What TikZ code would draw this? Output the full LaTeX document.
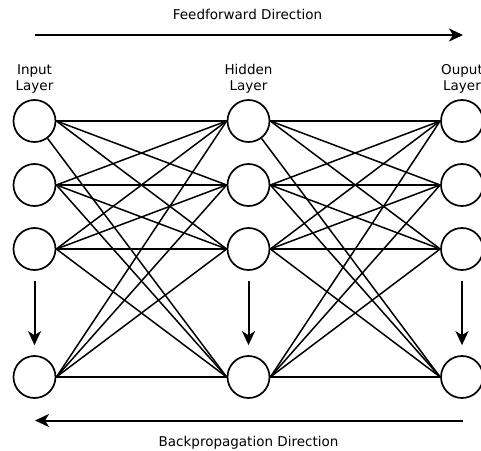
\documentclass[tikz,border=0pt]{standalone}
\usepackage{fontspec}
\setmainfont{DejaVu Sans}
\usetikzlibrary{arrows.meta}
\tikzset{
  neuron/.style={circle, draw, line width=1.7bp, minimum size=42bp, inner sep=0pt},
  link/.style={line width=1.5bp},
  flow/.style={line width=2bp, -{Stealth[length=14bp,width=13bp,inset=4bp]}},
  caption/.style={font=\fontsize{13.5bp}{16.6bp}\selectfont, inner sep=0pt, align=center},
}
\begin{document}
\begin{tikzpicture}[x=1bp, y=-1bp]
\useasboundingbox (0,0) rectangle (481,451);

% layers of neurons
\foreach \r/\yy in {1/121, 2/185, 3/249, 4/377} {
  \node[neuron] (in\r)  at (34.5,\yy) {};
  \node[neuron] (hid\r) at (248.5,\yy) {};
  \node[neuron] (out\r) at (462,\yy) {};
}

% layer captions (base anchor sits on the last line)
\node[caption, anchor=base] (lin)  at (34.5,91)  {Input\\Layer};
\node[caption, anchor=base] (lhid) at (248.5,91) {Hidden\\Layer};
\node[caption, anchor=base] (lout) at (462,91)   {Ouput\\Layer};

% full connections between consecutive layers
\foreach \i in {1,2,3,4} {
  \foreach \j in {1,2,3,4} {
    \ifnum\i\j=14
      \draw[link] (in1) -- (hid4.west);
      \draw[link] (hid1) -- (out4.west);
    \else
      \draw[link] (in\i.east) -- (hid\j.west);
      \draw[link] (hid\i.east) -- (out\j.west);
    \fi
  }
}

% elided neurons
\foreach \c in {in,hid,out}
  \draw[flow, shorten <=10bp, shorten >=10bp] (\c3) -- (\c4);

% directions
\coordinate (ffA) at (35,35);
\coordinate (ffB) at (463,35);
\coordinate (bpA) at (463,420.5);
\coordinate (bpB) at (35,420.5);
\draw[flow] (ffA) -- (ffB);
\draw[flow] (bpA) -- (bpB);
\node[caption, anchor=base] (ff) at (247.5,19.3) {Feedforward Direction};
\node[caption, anchor=base] (bp) at (248.5,446.5) {Backpropagation Direction};
\end{tikzpicture}
\end{document}
